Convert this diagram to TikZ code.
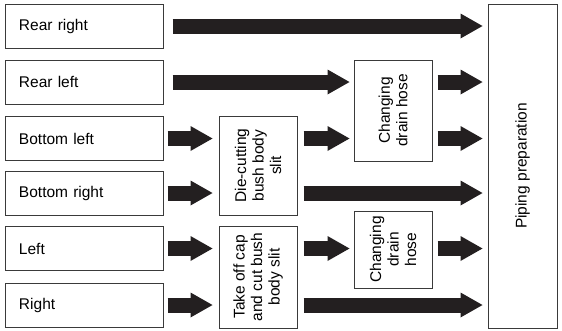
\documentclass[tikz,border=0pt]{standalone}
\usepackage{fontspec}
\setmainfont{Liberation Sans}
\usetikzlibrary{arrows.meta}
\definecolor{boxline}{HTML}{3A3A3A}
\definecolor{arrowfill}{HTML}{231F20}
\tikzset{
  box/.style={draw=boxline, line width=1pt, inner sep=0pt},
  item/.style={box, minimum width=158pt, minimum height=44pt, text width=130pt,
    align=left, inner xsep=14pt, font=\fontsize{15.5}{17.5}\selectfont},
  vtext/.style={rotate=90, align=center, inner sep=0pt, font=\fontsize{15.5}{17.5}\selectfont},
  fat/.style={draw=arrowfill, line width=15pt,
    -{Triangle[length=22pt 0 0, width=25pt 0 0, line width=0pt 0 0, fill=arrowfill]}},
}
\begin{document}
\begin{tikzpicture}[x=1pt,y=-1pt]
\useasboundingbox (0,0) rectangle (562,330);
% left items
\node[item] (rr) at (84,26) {Rear right};
\node[item] (rl) at (84,82) {Rear left};
\node[item] (bl) at (84,138.5) {Bottom left};
\node[item] (br) at (84,193) {Bottom right};
\node[item] (lf) at (84,248.5) {Left};
\node[item] (rt) at (84,305) {Right};
% process boxes
\node[box, minimum width=78pt, minimum height=99pt] (die) at (258,165.5) {};
\node[vtext] (dietext) at (die.center) {Die-cutting\\bush body\\slit};
\node[box, minimum width=78pt, minimum height=102pt] (tk) at (258,277) {};
\node[vtext] (tktext) at (tk.center) {Take off cap\\and cut bush\\body slit};
\node[box, minimum width=78pt, minimum height=101pt] (ch1) at (393,110.5) {};
\node[vtext] (ch1text) at (ch1.center) {Changing\\drain hose};
\node[box, minimum width=78pt, minimum height=77pt] (ch2) at (393,249.5) {};
\node[vtext] (ch2text) at (ch2.center) {Changing\\drain\\hose};
\node[box, minimum width=69pt, minimum height=324pt] (pp) at (522.5,166) {};
\node[vtext] (pptext) at (pp.center) {Piping preparation};
% arrows
\draw[fat, shorten <=9pt, shorten >=5pt] (rr.east) -- (pp.west |- rr.east);
\draw[fat, shorten <=9pt, shorten >=4pt] (rl.east) -- (ch1.west |- rl.east);
\draw[fat, shorten <=5pt, shorten >=5pt] (ch1.east |- rl.east) -- (pp.west |- rl.east);
\draw[fat, shorten <=4pt, shorten >=6pt] (bl.east) -- (die.west |- bl.east);
\draw[fat, shorten <=6pt, shorten >=4pt] (die.east |- bl.east) -- (ch1.west |- bl.east);
\draw[fat, shorten <=5pt, shorten >=5pt] (ch1.east |- bl.east) -- (pp.west |- bl.east);
\draw[fat, shorten <=4pt, shorten >=6pt] (br.east) -- (die.west |- br.east);
\draw[fat, shorten <=6pt, shorten >=5pt] (die.east |- br.east) -- (pp.west |- br.east);
\draw[fat, shorten <=4pt, shorten >=6pt] (lf.east) -- (tk.west |- lf.east);
\draw[fat, shorten <=6pt, shorten >=4pt] (tk.east |- lf.east) -- (ch2.west |- lf.east);
\draw[fat, shorten <=5pt, shorten >=5pt] (ch2.east |- lf.east) -- (pp.west |- lf.east);
\draw[fat, shorten <=4pt, shorten >=6pt] (rt.east) -- (tk.west |- rt.east);
\draw[fat, shorten <=6pt, shorten >=5pt] (tk.east |- rt.east) -- (pp.west |- rt.east);
\end{tikzpicture}
\end{document}
